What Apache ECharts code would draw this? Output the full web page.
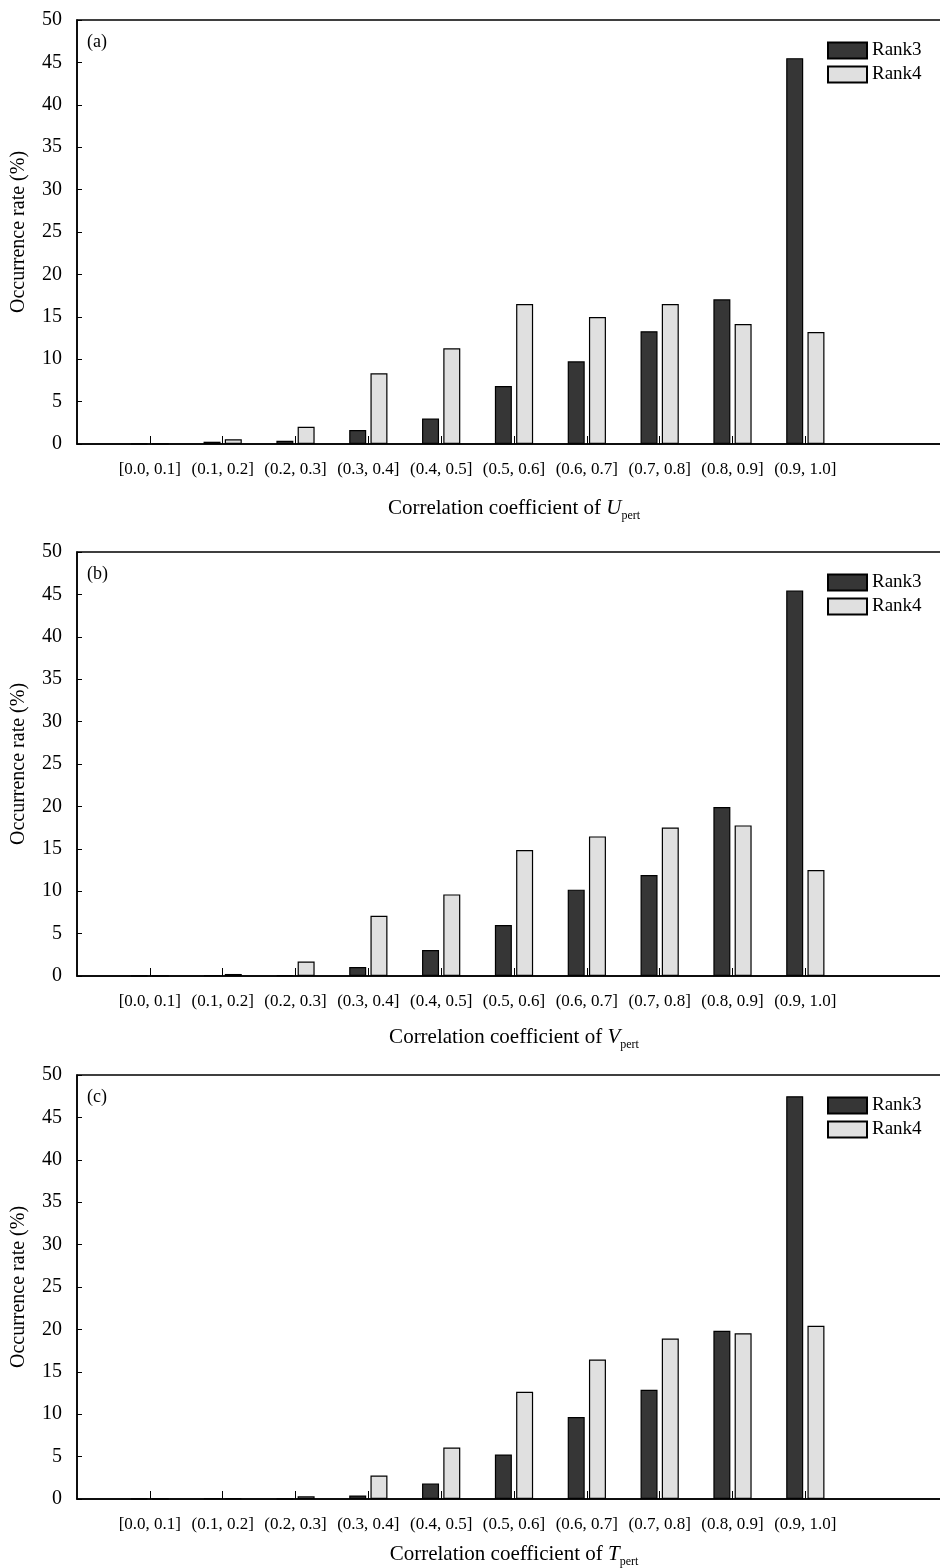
<!DOCTYPE html>
<html>
<head>
<meta charset="utf-8">
<script src="https://cdn.jsdelivr.net/npm/echarts@6/dist/echarts.min.js"></script>
<style>
  html, body { margin: 0; padding: 0; background: #fff; }
  #chart { width: 940px; height: 1568px; }
</style>
</head>
<body>
<div id="chart"></div>
<script>
// Correlation-coefficient bins (axis slot 0 is the origin; two empty slots pad the right end)
const binLabels = ['[0.0, 0.1]', '(0.1, 0.2]', '(0.2, 0.3]', '(0.3, 0.4]', '(0.4, 0.5]',
                   '(0.5, 0.6]', '(0.6, 0.7]', '(0.7, 0.8]', '(0.8, 0.9]', '(0.9, 1.0]'];
const yTicks = [0, 5, 10, 15, 20, 25, 30, 35, 40, 45, 50];

// Occurrence rate (%) per bin
const uRank3 = [0.05, 0.27, 0.39, 1.65, 3.0, 6.84, 9.75, 13.3, 17.06, 45.5];
const uRank4 = [0.05, 0.55, 2.04, 8.34, 11.28, 16.5, 14.98, 16.5, 14.15, 13.2];
const vRank3 = [0.03, 0.1, 0.08, 1.06, 3.07, 6.01, 10.18, 11.91, 19.93, 45.45];
const vRank4 = [0.03, 0.24, 1.7, 7.11, 9.62, 14.86, 16.46, 17.52, 17.76, 12.5];
const tRank3 = [0.05, 0.08, 0.05, 0.42, 1.84, 5.25, 9.66, 12.87, 19.83, 47.5];
const tRank4 = [0.05, 0.1, 0.33, 2.78, 6.08, 12.64, 16.45, 18.92, 19.55, 20.43];

const panelTags = ['(a)', '(b)', '(c)'];
const varNames = ['U', 'V', 'T'];

const FONT = "'Liberation Serif', 'Times New Roman', serif";
const DARK = '#363636';
const LIGHT = '#e0e0e0';

const categories = [' '].concat(binLabels, ['  ', '   ']);
const pad = arr => [null].concat(arr);

const panels = [
  { top: 20,   r3: uRank3, r4: uRank4, nameGap: 54 },
  { top: 552,  r3: vRank3, r4: vRank4, nameGap: 51 },
  { top: 1075, r3: tRank3, r4: tRank4, nameGap: 45 }
];
const H = 424;
// plot area runs past the right edge of the page (12 slot widths)
const W = 874;

const grid = [], xAxis = [], yAxis = [], legend = [], series = [], graphic = [];

panels.forEach((p, i) => {
  grid.push({
    left: 77, width: W, top: p.top, height: H,
    outerBoundsMode: 'none', containLabel: false,
    show: true, borderColor: '#000', borderWidth: 1.5, backgroundColor: 'transparent'
  });
  xAxis.push({
    type: 'category', gridIndex: i, data: categories, boundaryGap: false,
    axisLine: { lineStyle: { color: '#000', width: 1.5 } },
    axisTick: {
      inside: true, length: 8, lineStyle: { color: '#000', width: 1 },
      interval: idx => idx >= 1 && idx <= binLabels.length
    },
    axisLabel: { interval: 0, margin: 17, color: '#000', fontFamily: FONT, fontSize: 17 },
    splitLine: { show: false },
    name: '{a|Correlation coefficient of }{i|' + varNames[i] + '}{s|pert}',
    nameLocation: 'middle', nameGap: p.nameGap,
    nameTextStyle: {
      color: '#000', fontFamily: FONT, fontSize: 21,
      rich: {
        a: { fontFamily: FONT, fontSize: 21, color: '#000', lineHeight: 24, verticalAlign: 'top' },
        i: { fontFamily: FONT, fontSize: 21, color: '#000', fontStyle: 'italic', lineHeight: 24, verticalAlign: 'top' },
        s: { fontFamily: FONT, fontSize: 12, color: '#000', lineHeight: 14, padding: [13, 0, 0, 0], verticalAlign: 'bottom' }
      }
    }
  });
  yAxis.push({
    type: 'value', gridIndex: i, min: yTicks[0], max: yTicks[yTicks.length - 1], interval: 5,
    axisLine: { show: true, lineStyle: { color: '#000', width: 1.5 } },
    axisTick: { show: true, inside: true, length: 5, lineStyle: { color: '#000', width: 1 } },
    axisLabel: { margin: 15, color: '#000', fontFamily: FONT, fontSize: 20 },
    splitLine: { show: false },
    name: 'Occurrence rate (%)', nameLocation: 'middle', nameGap: 48,
    nameTextStyle: { color: '#000', fontFamily: FONT, fontSize: 20 }
  });
  legend.push({
    orient: 'vertical', left: 827, top: p.top + 21, padding: 0,
    icon: 'rect', itemWidth: 39, itemHeight: 16, itemGap: 5,
    textStyle: { color: '#000', fontFamily: FONT, fontSize: 19 },
    data: ['Rank3', 'Rank4']
  });
  series.push({
    name: 'Rank3', type: 'bar', xAxisIndex: i, yAxisIndex: i,
    data: pad(p.r3), barWidth: 17, barGap: '25%',
    itemStyle: { color: DARK, borderColor: '#000', borderWidth: 1.2 },
    emphasis: { disabled: true }
  });
  series.push({
    name: 'Rank4', type: 'bar', xAxisIndex: i, yAxisIndex: i,
    data: pad(p.r4), barWidth: 17, barGap: '25%',
    itemStyle: { color: LIGHT, borderColor: '#000', borderWidth: 1.2 },
    emphasis: { disabled: true }
  });
  graphic.push({
    type: 'text', left: 87, top: p.top + 13,
    style: { text: panelTags[i], fill: '#000', font: '18px ' + FONT }
  });
});

const chart = echarts.init(document.getElementById('chart'), null, { renderer: 'canvas' });
chart.setOption({
  animation: false,
  backgroundColor: '#fff',
  grid, xAxis, yAxis, legend, series, graphic
});
</script>
</body>
</html>
